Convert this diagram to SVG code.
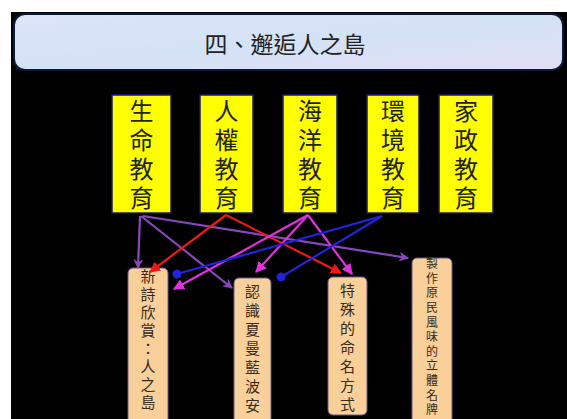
<svg xmlns="http://www.w3.org/2000/svg" width="567" height="419" viewBox="0 0 567 419">
<style>
.top{fill:#FFFF00;stroke:#1a1a6a;stroke-width:1.5}
.bot{fill:#F9D09A;stroke:#6a5a8a;stroke-width:1}
.v{font-family:"Noto Sans CJK TC","Noto Sans CJK SC",sans-serif;writing-mode:vertical-rl;text-anchor:middle}
.tt{font-size:24px;fill:#222;letter-spacing:5px}
.bt{font-size:15px;fill:#3a2a1a;letter-spacing:4px}
.bt1{font-size:15px;fill:#3a2a1a;letter-spacing:3px}
.st{font-size:12px;fill:#3a2a1a;letter-spacing:2.6px}
.title{font-family:"Noto Sans CJK TC","Noto Sans CJK SC",sans-serif;font-size:23px;fill:#222;text-anchor:middle}
.c{fill:none;stroke-width:2.2}
.pu{stroke:#8A45C0}
.rd{stroke:#F01818}
.mg{stroke:#E030E0}
.bl{stroke:#2222E0}
</style>
<defs>
<linearGradient id="ban" x1="0" y1="0" x2="1" y2="1">
<stop offset="0" stop-color="#DCE4F8"/>
<stop offset="0.5" stop-color="#D4E2F6"/>
<stop offset="1" stop-color="#E2DDF4"/>
</linearGradient>
<marker id="aPu" viewBox="0 0 10 10" refX="9" refY="5" markerWidth="10" markerHeight="10" markerUnits="userSpaceOnUse" orient="auto"><path d="M0,0 L10,5 L0,10 L3,5 z" fill="#8A45C0"/></marker>
<marker id="aRd" viewBox="0 0 10 10" refX="9" refY="5" markerWidth="11" markerHeight="11" markerUnits="userSpaceOnUse" orient="auto"><path d="M0,0 L10,5 L0,10 z" fill="#F01818"/></marker>
<marker id="aMg" viewBox="0 0 10 10" refX="9" refY="5" markerWidth="11" markerHeight="11" markerUnits="userSpaceOnUse" orient="auto"><path d="M0,0 L10,5 L0,10 z" fill="#E030E0"/></marker>
<marker id="aBl" viewBox="0 0 10 10" refX="5" refY="5" markerWidth="9" markerHeight="9" markerUnits="userSpaceOnUse" orient="auto"><ellipse cx="5" cy="5" rx="5" ry="5" fill="#2222E0"/></marker>
</defs>
<rect x="0" y="0" width="567" height="419" fill="#FFFFFF"/>
<rect x="11" y="12" width="556" height="407" fill="#000000"/>
<g id="title">
<rect x="14" y="14" width="549" height="56" rx="11" fill="url(#ban)" stroke="#0a1a3a" stroke-width="2"/>
<text class="title" x="285" y="53">四、邂逅人之島</text>
</g>
<g id="n1">
<rect class="top" x="112" y="95" width="59" height="118"/>
<text class="v tt" x="141.5" y="157">生命教育</text>
</g>
<g id="n2">
<rect class="top" x="200" y="95" width="53" height="118"/>
<text class="v tt" x="226.5" y="157">人權教育</text>
</g>
<g id="n3">
<rect class="top" x="283" y="95" width="54" height="118"/>
<text class="v tt" x="310" y="157">海洋教育</text>
</g>
<g id="n4">
<rect class="top" x="367" y="95" width="52" height="118"/>
<text class="v tt" x="393" y="157">環境教育</text>
</g>
<g id="n5">
<rect class="top" x="439" y="95" width="54" height="118"/>
<text class="v tt" x="466" y="157">家政教育</text>
</g>
<g id="b1">
<rect class="bot" x="128" y="268" width="40" height="160" rx="5"/>
<text class="v bt1" x="148" y="341">新詩欣賞：人之島</text>
</g>
<g id="b2">
<rect class="bot" x="234" y="278" width="37" height="150" rx="5"/>
<text class="v bt" x="252.5" y="350">認識夏曼藍波安</text>
</g>
<g id="b3">
<rect class="bot" x="328" y="277" width="39" height="138" rx="5"/>
<text class="v bt" x="347.5" y="349">特殊的命名方式</text>
</g>
<g id="b4">
<rect class="bot" x="412" y="258" width="40" height="170" rx="5"/>
<text class="v st" x="432" y="338">製作原民風味的立體名牌</text>
</g>
<g id="connectors">
<line class="c pu" x1="140" y1="216" x2="138" y2="268" marker-end="url(#aPu)"/>
<line class="c pu" x1="141" y1="216" x2="232" y2="288" marker-end="url(#aPu)"/>
<line class="c pu" x1="143" y1="216" x2="408" y2="258" marker-end="url(#aPu)"/>
<line class="c rd" x1="226" y1="215" x2="150" y2="272" marker-end="url(#aRd)"/>
<line class="c rd" x1="226" y1="215" x2="341" y2="273" marker-end="url(#aRd)"/>
<line class="c mg" x1="308" y1="215" x2="174" y2="289" marker-end="url(#aMg)"/>
<line class="c mg" x1="308" y1="215" x2="256" y2="272" marker-end="url(#aMg)"/>
<line class="c mg" x1="308" y1="215" x2="352" y2="274" marker-end="url(#aMg)"/>
<line class="c bl" x1="382" y1="216" x2="177" y2="274" marker-end="url(#aBl)"/>
<line class="c bl" x1="382" y1="216" x2="281" y2="277" marker-end="url(#aBl)"/>
</g>
</svg>
